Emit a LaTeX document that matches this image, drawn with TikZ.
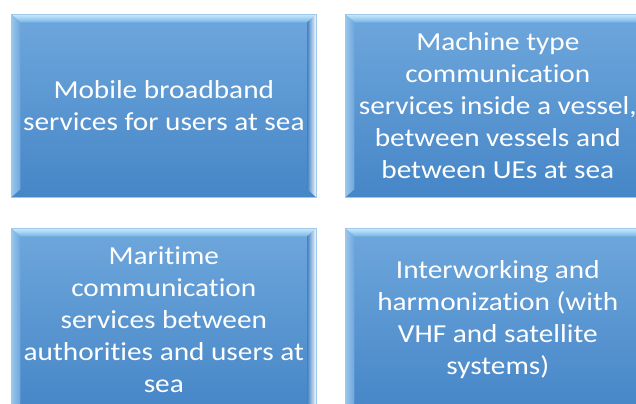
\documentclass[tikz,border=0pt]{standalone}
\usepackage{fontspec}
\setmainfont{Carlito}[FakeStretch=1.13, Ligatures=NoCommon]
\usetikzlibrary{calc}
\definecolor{facetop}{RGB}{110,167,220}
\definecolor{facebot}{RGB}{70,134,199}
\definecolor{bevtopA}{RGB}{200,236,252}
\definecolor{bevtopB}{RGB}{120,180,232}
\definecolor{bevleft}{RGB}{128,184,232}
\definecolor{bevright}{RGB}{150,205,245}
\definecolor{rimcol}{RGB}{160,200,235}
\tikzset{
  bevelbox/.style={
    minimum width=305bp, minimum height=183bp, inner sep=0pt,
    anchor=north west, top color=facetop, bottom color=facebot,
    draw=rimcol, line width=0.6bp,
    text=white, align=center,
    font=\fontsize{26}{32}\selectfont,
    path picture={
      \def\bx{9bp}\def\by{8bp}
      \coordinate (nw) at (path picture bounding box.north west);
      \coordinate (ne) at (path picture bounding box.north east);
      \coordinate (sw) at (path picture bounding box.south west);
      \coordinate (se) at (path picture bounding box.south east);
      \shade[top color=bevtopA, bottom color=bevtopB]
        (nw) -- (ne) -- ($(ne)+(-\bx,-\by)$) -- ($(nw)+(\bx,-\by)$) -- cycle;
      \shade[left color=bevleft!80!white, right color=facetop]
        (nw) -- ($(nw)+(\bx,-\by)$) -- ($(sw)+(\bx,\by)$) -- (sw) -- cycle;
      \shade[left color=facebot, middle color=bevright, right color=white]
        (ne) -- (se) -- ($(se)+(-\bx,\by)$) -- ($(ne)+(-\bx,-\by)$) -- cycle;
    }
  }
}
\begin{document}
\begin{tikzpicture}[x=1bp,y=-1bp]
\path[use as bounding box, clip] (0,0) rectangle (636,403);
\fill[white] (0,0) rectangle (636,403);
\node[bevelbox] (b1) at (11,14) {Mobile broadband\\services for users at sea};
\node[bevelbox] (b2) at (345,14) {Machine type\\communication\\services inside a vessel,\\between vessels and\\between UEs at sea};
\node[bevelbox] (b3) at (11,228) {Maritime\\communication\\services between\\authorities and users at\\sea};
\node[bevelbox] (b4) at (345,228) {Interworking and\\harmonization (with\\VHF and satellite\\systems)};
\end{tikzpicture}
\end{document}
